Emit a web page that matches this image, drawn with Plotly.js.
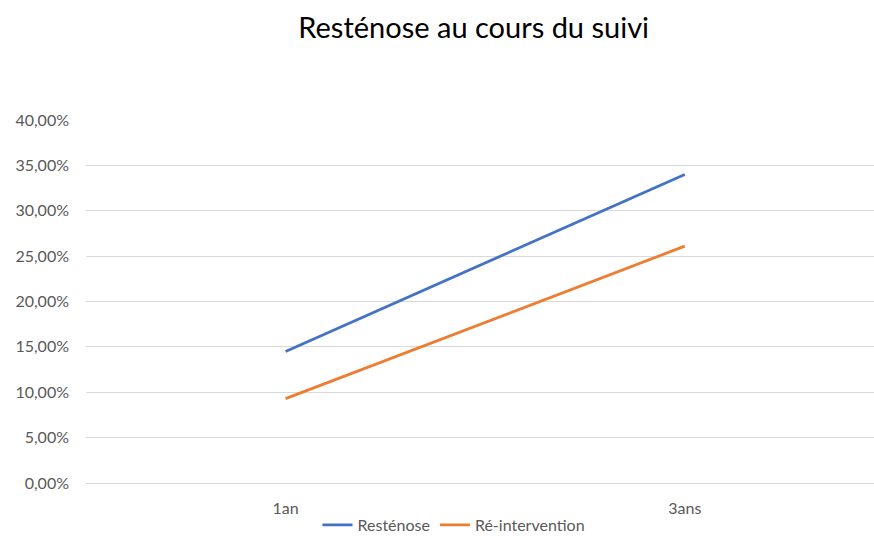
<!DOCTYPE html>
<html><head><meta charset="utf-8">
<script src="https://cdn.plot.ly/plotly-3.0.1.min.js"></script>
<style>html,body{margin:0;padding:0;overflow:hidden;background:#fff}</style>
</head><body><div id="chart" style="width:874px;height:537px"></div>
<script>
const categories = ["1an", "3ans"];
const resteno = [0.145, 0.34];
const reinterv = [0.093, 0.261];
const seriesNames = ["Resténose", "Ré-intervention"];

const traces = [
  {x: categories, y: resteno, name: seriesNames[0], type: "scatter", mode: "lines",
   line: {color: "#4472C4", width: 2.8}},
  {x: categories, y: reinterv, name: seriesNames[1], type: "scatter", mode: "lines",
   line: {color: "#ED7D31", width: 2.8}}
];
const layout = {
  width: 874, height: 537,
  separators: ", ",
  paper_bgcolor: "#fff", plot_bgcolor: "#fff",
  font: {family: "Lato, 'Open Sans', sans-serif", color: "#595959", size: 16},
  title: {text: "Resténose au cours du suivi", font: {size: 29, color: "#000", family: "Lato, 'Open Sans', sans-serif"},
          x: 0.542, xanchor: "center", y: 0.948, yanchor: "middle"},
  margin: {l: 86, r: 0, t: 120, b: 54, autoexpand: false},
  xaxis: {type: "category", range: [-0.5, 1.474], showgrid: false, showline: false, zeroline: false,
          automargin: false, ticks: "", tickfont: {size: 16, color: "#595959"}, ticklabelstandoff: 14},
  yaxis: {range: [0, 0.4], dtick: 0.05, tickformat: ".2%", gridcolor: "#d9d9d9", gridwidth: 1,
          automargin: false, zeroline: true, zerolinecolor: "#d9d9d9", zerolinewidth: 1, showline: false, ticks: "",
          tickfont: {size: 16, color: "#595959"}, ticklabelstandoff: 16},
  showlegend: true,
  legend: {orientation: "h", x: 0.467, xanchor: "center", y: -0.069, yanchor: "top",
           font: {size: 16, color: "#595959"}, itemwidth: 30, tracegroupgap: 0}
};
Plotly.newPlot("chart", traces, layout, {displayModeBar: false, staticPlot: true});
</script></body></html>
